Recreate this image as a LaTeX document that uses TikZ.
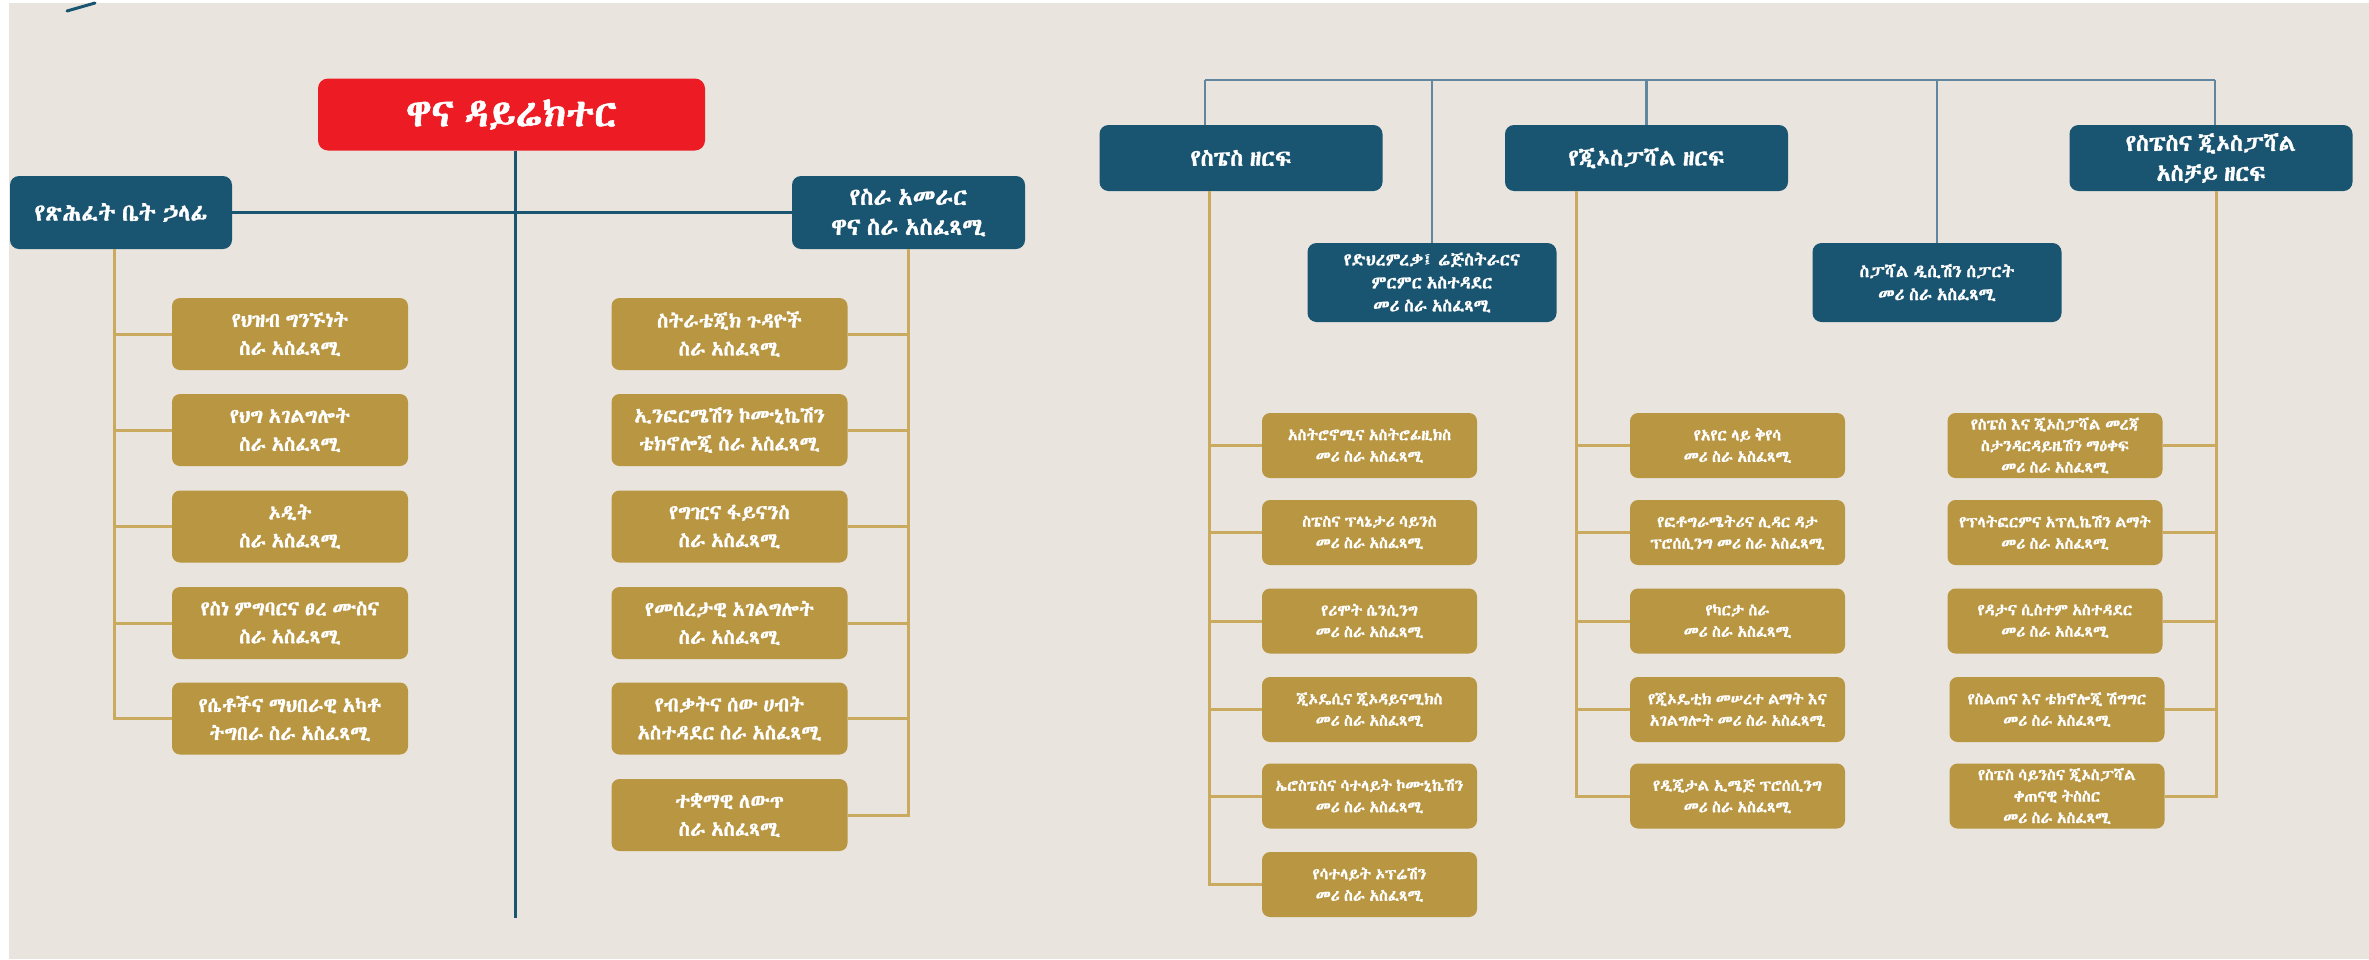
\documentclass[tikz,border=0pt]{standalone}
\usepackage{fontspec}
\setmainfont{Abyssinica SIL}[AutoFakeBold=1.3,WordSpace=0.6]
\definecolor{pagebg}{RGB}{233,229,222}
\definecolor{dgred}{RGB}{237,28,36}
\definecolor{headblue}{RGB}{25,84,113}
\definecolor{unitgold}{RGB}{185,150,66}
\definecolor{linegold}{RGB}{201,170,95}
\definecolor{busblue}{RGB}{98,134,158}
\tikzset{
  redbox/.style={fill=dgred,rounded corners=10pt,inner sep=0pt,minimum width=387pt,minimum height=72pt,text=white,font=\fontsize{39}{44}\selectfont\bfseries},
  headbox/.style={fill=headblue,rounded corners=9pt,inner sep=0pt,minimum height=73pt,text=white,align=center,font=\fontsize{24}{30}\selectfont\bfseries},
  secthead/.style={fill=headblue,rounded corners=9pt,inner sep=0pt,minimum width=283pt,minimum height=66pt,text=white,align=center,font=\fontsize{23.5}{30}\selectfont\bfseries},
  leadbox/.style={fill=headblue,rounded corners=9pt,inner sep=0pt,minimum width=249pt,minimum height=79pt,text=white,align=center,font=\fontsize{17.5}{23}\selectfont\bfseries},
  unitbig/.style={fill=unitgold,rounded corners=8pt,inner sep=0pt,minimum width=236pt,minimum height=72pt,text=white,align=center,font=\fontsize{20.5}{28}\selectfont\bfseries},
  unitsmall/.style={fill=unitgold,rounded corners=8pt,inner sep=0pt,minimum width=215pt,minimum height=65pt,text=white,align=center,font=\fontsize{16}{21.5}\selectfont\bfseries},
  blueline/.style={headblue,line width=3pt},
  busline/.style={busblue,line width=2.5pt},
  goldline/.style={linegold,line width=3pt}
}
\begin{document}
\begin{tikzpicture}[x=1pt,y=-1pt]
\useasboundingbox (0,0) rectangle (2369,959);
\fill[pagebg] (9,3) rectangle (2369,959);
\draw[blueline,line cap=round] (67,11) -- (95,3);

% left half
\node[redbox] (dg) at (511.5,114.5) {ዋና ዳይሬክተር};
\node[headbox,minimum width=222pt] (ofc) at (121,212.5) {የጽሕፈት ቤት ኃላፊ};
\node[headbox,minimum width=233pt] (mgmt) at (908.5,212.5) {የስራ አመራር\\ዋና ስራ አስፈጻሚ};

\coordinate (dgend) at (515,918);
\draw[blueline] ([xshift=3.5pt]dg.south) -- (dgend);
\draw[blueline] (ofc.east) -- (mgmt.west);

\node[unitbig] (u1) at (290,334) {የህዝብ ግንኙነት\\ስራ አስፈጻሚ};
\node[unitbig] (u2) at (290,430) {የህግ አገልግሎት\\ስራ አስፈጻሚ};
\node[unitbig] (u3) at (290,526.5) {ኦዲት\\ስራ አስፈጻሚ};
\node[unitbig] (u4) at (290,623) {የስነ ምግባርና ፀረ ሙስና\\ስራ አስፈጻሚ};
\node[unitbig] (u5) at (290,718.5) {የሴቶችና ማህበራዊ አካቶ\\ትግበራ ስራ አስፈጻሚ};

\node[unitbig] (m1) at (729.5,334) {ስትራቴጂክ ጉዳዮች\\ስራ አስፈጻሚ};
\node[unitbig] (m2) at (729.5,430) {ኢንፎርሜሽን ኮሙኒኬሽን\\ቴክኖሎጂ ስራ አስፈጻሚ};
\node[unitbig] (m3) at (729.5,526.5) {የግዢና ፋይናንስ\\ስራ አስፈጻሚ};
\node[unitbig] (m4) at (729.5,623) {የመሰረታዊ አገልግሎት\\ስራ አስፈጻሚ};
\node[unitbig] (m5) at (729.5,718.5) {የብቃትና ሰው ሀብት\\አስተዳደር ስራ አስፈጻሚ};
\node[unitbig] (m6) at (729.5,815) {ተቋማዊ ለውጥ\\ስራ አስፈጻሚ};

\draw[goldline] ([xshift=-7pt]ofc.south) |- (u1.west);
\draw[goldline] ([xshift=-7pt]ofc.south) |- (u2.west);
\draw[goldline] ([xshift=-7pt]ofc.south) |- (u3.west);
\draw[goldline] ([xshift=-7pt]ofc.south) |- (u4.west);
\draw[goldline] ([xshift=-7pt]ofc.south) |- (u5.west);

\draw[goldline] (mgmt.south) |- (m1.east);
\draw[goldline] (mgmt.south) |- (m2.east);
\draw[goldline] (mgmt.south) |- (m3.east);
\draw[goldline] (mgmt.south) |- (m4.east);
\draw[goldline] (mgmt.south) |- (m5.east);
\draw[goldline] (mgmt.south) |- (m6.east);

% right half
\node[secthead] (sp) at (1241,158) {የስፔስ ዘርፍ};
\node[leadbox] (pg) at (1432,282.5) {የድህረምረቃ፤ ሬጅስትራርና\\ምርምር አስተዳደር\\መሪ ስራ አስፈጻሚ};
\node[secthead] (geo) at (1646.5,158) {የጂኦስፓሻል ዘርፍ};
\node[leadbox] (sds) at (1937,282.5) {ስፓሻል ዲሲሽን ሰፓርት\\መሪ ስራ አስፈጻሚ};
\node[secthead] (en) at (2211,158) {የስፔስና ጂኦስፓሻል\\አስቻይ ዘርፍ};

\coordinate (busL) at (1205,80);
\coordinate (busR) at (2215,80);
\draw[busline] (busL) -- (busR);
\draw[busline] (busL) -- (busL |- sp.north);
\draw[busline] (pg.north) -- (pg.north |- busL);
\draw[busline] (geo.north) -- (geo.north |- busL);
\draw[busline] (sds.north) -- (sds.north |- busL);
\draw[busline] (busR) -- (busR |- en.north);

\node[unitsmall] (s1) at (1369.5,445.5) {አስትሮኖሚና አስትሮፊዚክስ\\መሪ ስራ አስፈጻሚ};
\node[unitsmall] (s2) at (1369.5,532.5) {ስፔስና ፕላኔታሪ ሳይንስ\\መሪ ስራ አስፈጻሚ};
\node[unitsmall] (s3) at (1369.5,621) {የሪሞት ሴንሲንግ\\መሪ ስራ አስፈጻሚ};
\node[unitsmall] (s4) at (1369.5,709.5) {ጂኦዴሲና ጂኦዳይናሚክስ\\መሪ ስራ አስፈጻሚ};
\node[unitsmall] (s5) at (1369.5,796) {ኤሮስፔስና ሳተላይት ኮሙኒኬሽን\\መሪ ስራ አስፈጻሚ};
\node[unitsmall] (s6) at (1369.5,884.5) {የሳተላይት ኦፕሬሽን\\መሪ ስራ አስፈጻሚ};

\node[unitsmall] (g1) at (1737.5,445.5) {የአየር ላይ ቅየሳ\\መሪ ስራ አስፈጻሚ};
\node[unitsmall] (g2) at (1737.5,532.5) {የፎቶግራሜትሪና ሊዳር ዳታ\\ፕሮሰሲንግ መሪ ስራ አስፈጻሚ};
\node[unitsmall] (g3) at (1737.5,621) {የካርታ ስራ\\መሪ ስራ አስፈጻሚ};
\node[unitsmall] (g4) at (1737.5,709.5) {የጂኦዴቲክ መሠረተ ልማት እና\\አገልግሎት መሪ ስራ አስፈጻሚ};
\node[unitsmall] (g5) at (1737.5,796) {የዲጂታል ኢሜጅ ፕሮሰሲንግ\\መሪ ስራ አስፈጻሚ};

\node[unitsmall] (e1) at (2055,445.5) {የስፔስ እና ጂኦስፓሻል መረጃ\\ስታንዳርዳይዜሽን ማዕቀፍ\\መሪ ስራ አስፈጻሚ};
\node[unitsmall] (e2) at (2055,532.5) {የፕላትፎርምና አፕሊኬሽን ልማት\\መሪ ስራ አስፈጻሚ};
\node[unitsmall] (e3) at (2055,621) {የዳታና ሲስተም አስተዳደር\\መሪ ስራ አስፈጻሚ};
\node[unitsmall] (e4) at (2057,709.5) {የስልጠና እና ቴክኖሎጂ ሽግግር\\መሪ ስራ አስፈጻሚ};
\node[unitsmall] (e5) at (2057,796) {የስፔስ ሳይንስና ጂኦስፓሻል\\ቀጠናዊ ትስስር\\መሪ ስራ አስፈጻሚ};

\draw[goldline] ([xshift=-32pt]sp.south) |- (s1.west);
\draw[goldline] ([xshift=-32pt]sp.south) |- (s2.west);
\draw[goldline] ([xshift=-32pt]sp.south) |- (s3.west);
\draw[goldline] ([xshift=-32pt]sp.south) |- (s4.west);
\draw[goldline] ([xshift=-32pt]sp.south) |- (s5.west);
\draw[goldline] ([xshift=-32pt]sp.south) |- (s6.west);

\draw[goldline] ([xshift=-70.5pt]geo.south) |- (g1.west);
\draw[goldline] ([xshift=-70.5pt]geo.south) |- (g2.west);
\draw[goldline] ([xshift=-70.5pt]geo.south) |- (g3.west);
\draw[goldline] ([xshift=-70.5pt]geo.south) |- (g4.west);
\draw[goldline] ([xshift=-70.5pt]geo.south) |- (g5.west);

\draw[goldline] ([xshift=5pt]en.south) |- (e1.east);
\draw[goldline] ([xshift=5pt]en.south) |- (e2.east);
\draw[goldline] ([xshift=5pt]en.south) |- (e3.east);
\draw[goldline] ([xshift=5pt]en.south) |- (e4.east);
\draw[goldline] ([xshift=5pt]en.south) |- (e5.east);

\end{tikzpicture}
\end{document}
